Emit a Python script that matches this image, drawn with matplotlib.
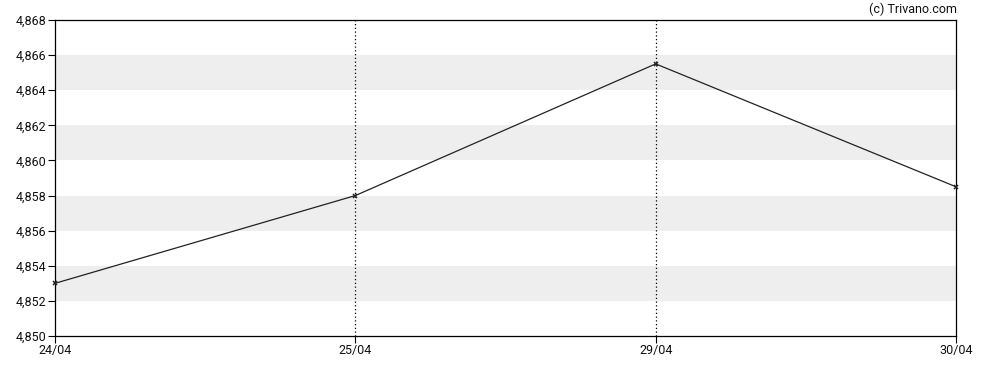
import matplotlib
matplotlib.use("Agg")
import matplotlib.pyplot as plt
from matplotlib.ticker import FuncFormatter

dates = ["24/04", "25/04", "29/04", "30/04"]
values = [4.853, 4.858, 4.8655, 4.8585]
y_ticks = [4.850, 4.852, 4.854, 4.856, 4.858, 4.860, 4.862, 4.864, 4.866, 4.868]
bands = [(4.852, 4.854), (4.856, 4.858), (4.860, 4.862), (4.864, 4.866)]

plt.rcParams['font.family'] = ['Roboto', 'DejaVu Sans']

fig = plt.figure(figsize=(9.88, 3.70), dpi=100)
ax = fig.add_axes([55/988, 1-336/370, (956-55)/988, (336-20)/370])

x = list(range(len(dates)))
for lo, hi in bands:
    ax.axhspan(lo, hi, color="#eeeeee", lw=0, zorder=0)
for xi in x[1:-1]:
    ax.axvline(xi, color="black", lw=0.9, ls=(0, (1, 2)), zorder=1)

ax.plot(x, values, color="#222222", lw=0.9, marker="x", ms=3.5, mew=1.1, zorder=3, clip_on=False)

ax.set_xlim(0, len(dates) - 1)
ax.set_ylim(4.850, 4.868)
ax.set_xticks(x)
ax.set_xticklabels(dates)
ax.set_yticks(y_ticks)
ax.yaxis.set_major_formatter(FuncFormatter(lambda v, p: f"{v:.3f}".replace(".", ",")))
ax.tick_params(axis="both", labelsize=9, length=5, width=0.8, color="black", labelcolor="#111111", pad=1)
for s in ax.spines.values():
    s.set_linewidth(0.9)
    s.set_color("black")

fig.text(957/988, 1-9/370, "(c) Trivano.com", ha="right", va="center", fontsize=9, color="#111111")

fig.savefig("out.png", dpi=100)
